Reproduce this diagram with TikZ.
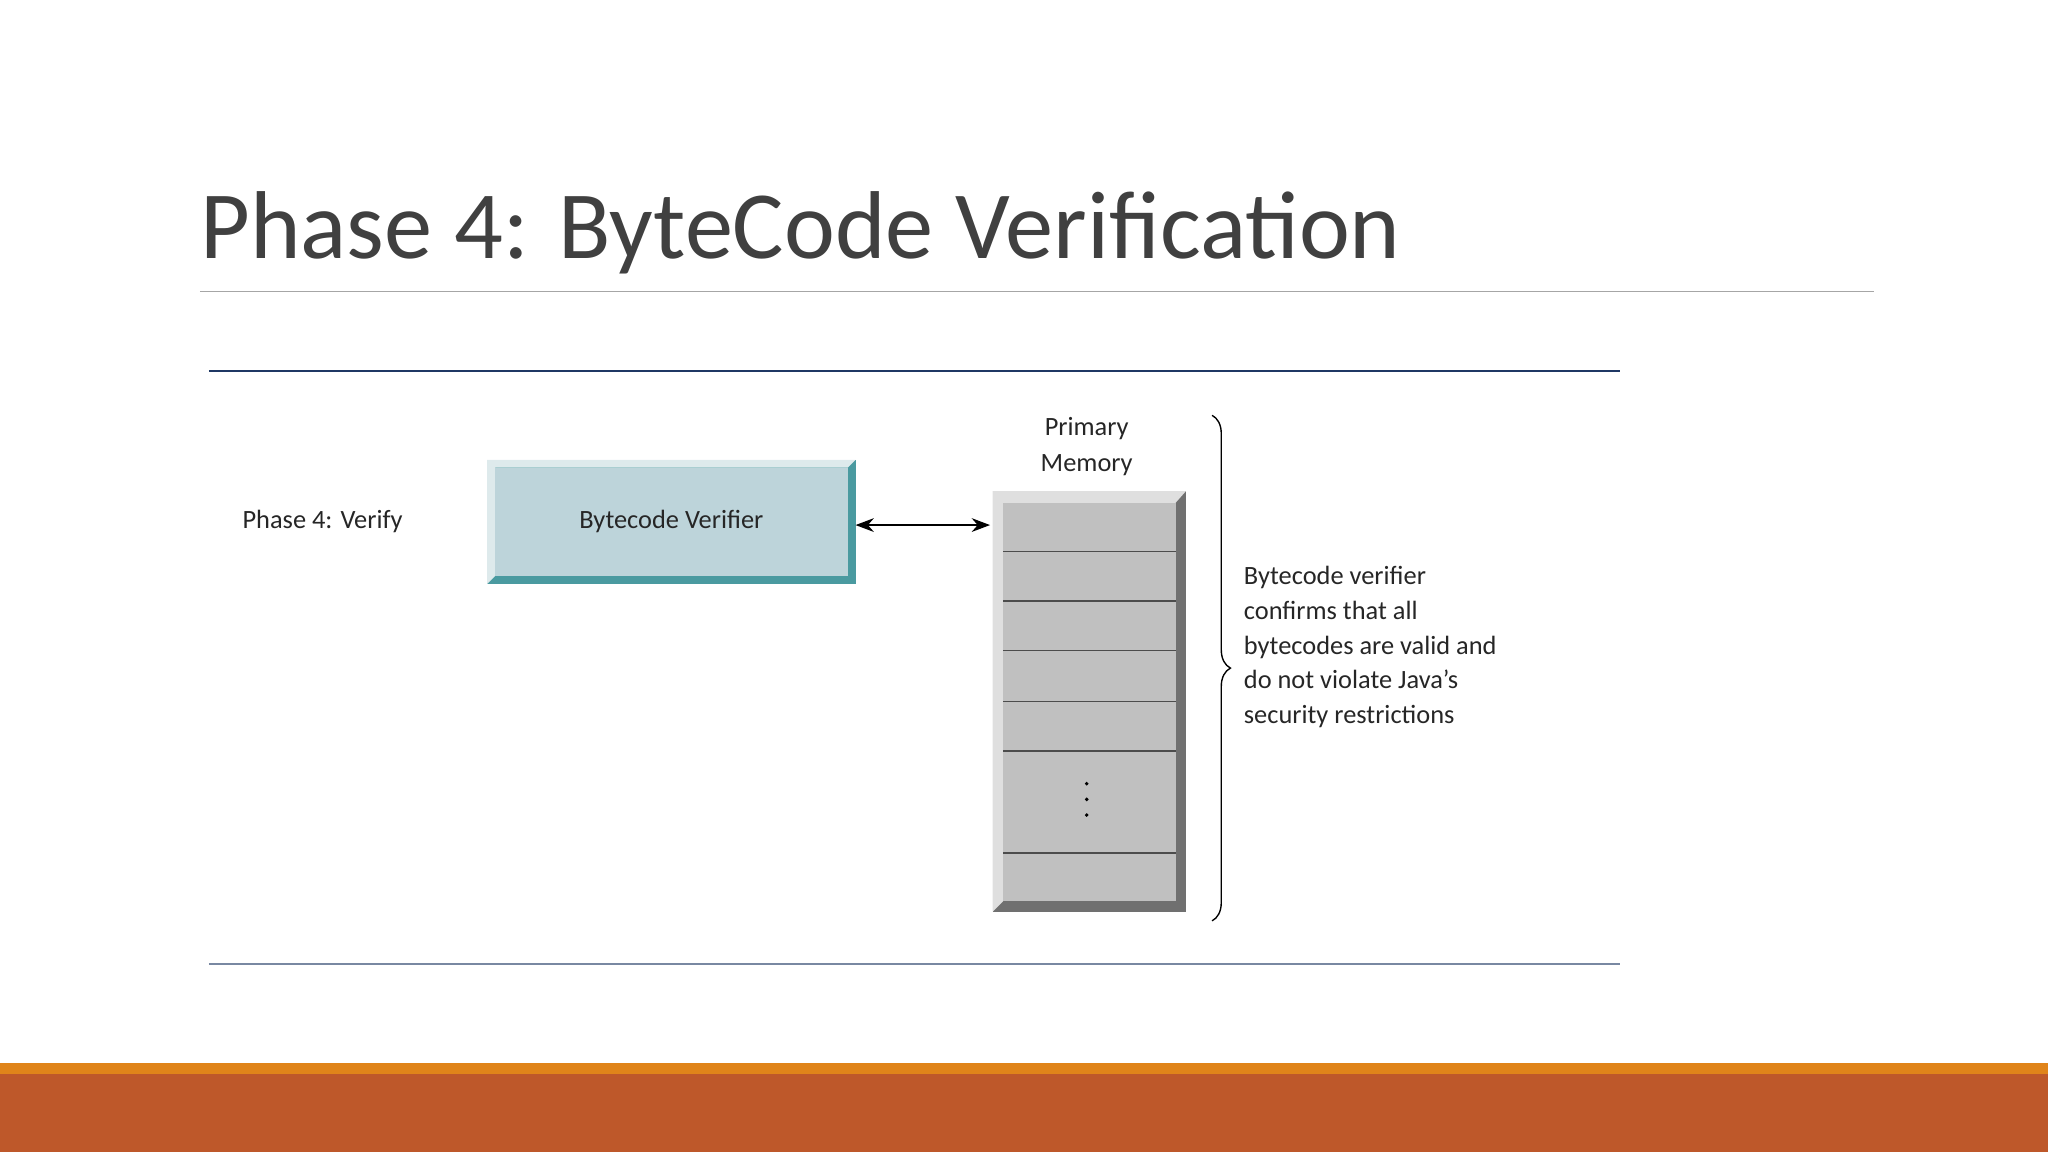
\documentclass[tikz,border=0pt]{standalone}
\usepackage{fontspec}
\setmainfont{Carlito}
\usetikzlibrary{arrows.meta,decorations.pathreplacing}
\definecolor{titlec}{HTML}{404040}
\definecolor{navy}{HTML}{1F3864}
\definecolor{face}{HTML}{BDD4DA}
\definecolor{teal}{HTML}{4A9AA0}
\definecolor{memg}{HTML}{C0C0C0}
\definecolor{memd}{HTML}{707070}
\definecolor{orgA}{HTML}{E0841A}
\definecolor{orgB}{HTML}{BE582A}
\tikzset{lbl/.style={font=\fontsize{11.5}{14}\selectfont,text=black!85,inner sep=0pt}}
\begin{document}
\begin{tikzpicture}[x=0.02cm,y=-0.02cm]
\useasboundingbox (0,0) rectangle (1568,882);
\node[anchor=base west,inner sep=0pt,text=titlec,font=\fontsize{42}{50}\selectfont] (title) at (153,198) {Phase 4: ByteCode Verification};
\draw[gray!70,line width=0.6pt] (153,223) -- (1435,223);
\draw[navy,line width=1pt] (160,284) -- (1240,284);
\draw[navy!60,line width=1pt] (160,738) -- (1240,738);
\node[lbl] (phase) at (247,399) {Phase 4: Verify};
% verifier box
\fill[teal] (373,352) rectangle (655,447);
\fill[face!50] (373,352) -- (655,352) -- (649,358) -- (379,358) -- (379,441) -- (373,447) -- cycle;
\fill[face] (379,358) rectangle (649,441);
\node[lbl] (bv) at (514,399) {Bytecode Verifier};
\coordinate (bvR) at (655,402);
% memory
\fill[memd] (760,376) rectangle (908,698);
\fill[gray!25] (760,376) -- (908,376) -- (900,385) -- (768,385) -- (768,690) -- (760,698) -- cycle;
\fill[memg] (768,385) rectangle (900,690);
\foreach \y in {422,460,498,537,575,653} \draw[black!70,line width=0.6pt] (768,\y) -- (900,\y);
\foreach \y in {600,612,624} \fill[black] (832,\y) circle (1.5);
\coordinate (memL) at (758,402);
\draw[{Stealth[length=8pt]}-{Stealth[length=8pt]},line width=0.6pt] (bvR) -- (memL);
\node[lbl,align=center,font=\fontsize{11.5}{15.5}\selectfont] (pm) at (832,342) {Primary\\Memory};
\draw[decorate,decoration={brace,amplitude=8pt},line width=0.6pt] (928,318) -- (928,705);
\node[lbl,anchor=north west,align=left,font=\fontsize{11.5}{15.2}\selectfont] (desc) at (952,433) {Bytecode verifier\\confirms that all\\bytecodes are valid and\\do not violate Java’s\\security restrictions};
\fill[orgA] (0,814) rectangle (1568,822);
\fill[orgB] (0,822) rectangle (1568,882);
\end{tikzpicture}
\end{document}
